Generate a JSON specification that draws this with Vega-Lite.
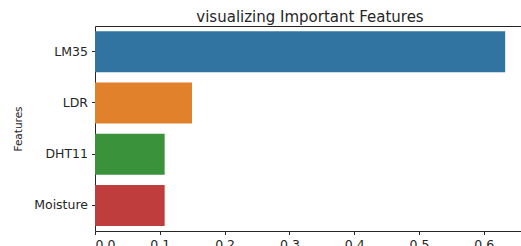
{
  "$schema": "https://vega.github.io/schema/vega-lite/v6.json",
  "autosize": "none",
  "padding": {"left": 95, "top": 26, "right": 0, "bottom": 15},
  "width": 426,
  "height": 205,
  "background": "white",
  "title": {
    "text": "visualizing Important Features",
    "font": "DejaVu Sans",
    "fontSize": 15,
    "fontWeight": "normal",
    "color": "#262626",
    "anchor": "middle",
    "baseline": "alphabetic",
    "offset": 4,
    "dx": 2,
    "dy": 15
  },
  "data": {
    "values": [
      {"feature": "LM35", "importance": 0.633},
      {"feature": "LDR", "importance": 0.1497},
      {"feature": "DHT11", "importance": 0.1075},
      {"feature": "Moisture", "importance": 0.1075}
    ]
  },
  "encoding": {
    "y": {
      "field": "feature",
      "type": "nominal",
      "sort": null,
      "scale": {"paddingInner": 0.2, "paddingOuter": 0.1},
      "axis": {
        "title": "Features",
        "titleFont": "DejaVu Sans",
        "titleFontSize": 10.5,
        "titleFontWeight": "normal",
        "titleColor": "#262626",
        "titlePadding": 10,
        "labelFont": "DejaVu Sans",
        "labelFontSize": 12.5,
        "labelColor": "#262626",
        "labelPadding": 4,
        "tickSize": 3.5,
        "tickColor": "#262626",
        "domainColor": "#262626",
        "grid": false
      }
    },
    "x": {
      "field": "importance",
      "type": "quantitative",
      "scale": {"domain": [0, 0.6574], "nice": false, "zero": true}
    },
    "color": {
      "field": "feature",
      "type": "nominal",
      "scale": {
        "domain": ["LM35", "LDR", "DHT11", "Moisture"],
        "range": ["#3274a1", "#e1812c", "#3a923a", "#c03d3e"]
      },
      "legend": null
    }
  },
  "layer": [
    {
      "mark": {"type": "bar"},
      "encoding": {
        "x": {
          "field": "importance",
          "type": "quantitative",
          "axis": {
            "orient": "bottom",
            "title": null,
            "values": [0, 0.1, 0.2, 0.3, 0.4, 0.5, 0.6],
            "format": ".1f",
            "grid": false,
            "labelFont": "DejaVu Sans",
            "labelFontSize": 12.5,
            "labelColor": "#262626",
            "labelPadding": 4,
            "tickSize": 3.5,
            "tickColor": "#262626",
            "domainColor": "#262626"
          }
        }
      }
    },
    {
      "mark": {"type": "bar", "opacity": 0},
      "encoding": {
        "x": {
          "field": "importance",
          "type": "quantitative",
          "axis": {
            "orient": "top",
            "title": null,
            "labels": false,
            "ticks": false,
            "grid": false,
            "domainColor": "#262626"
          }
        }
      }
    }
  ],
  "resolve": {"axis": {"x": "independent"}},
  "config": {"view": {"stroke": null}}
}
